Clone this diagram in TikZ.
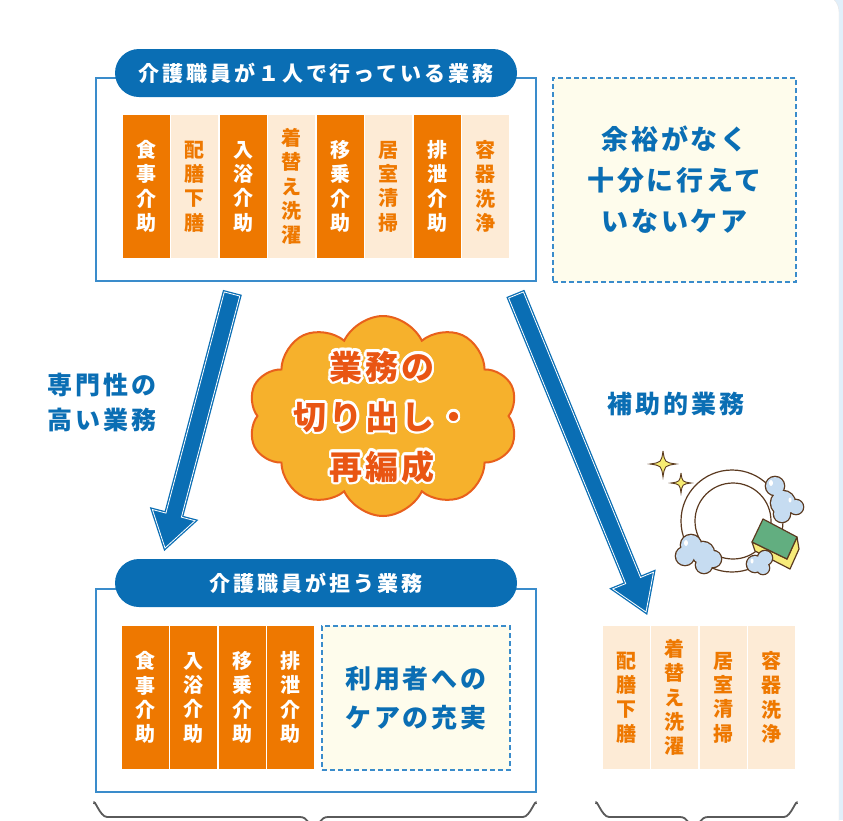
\documentclass[tikz,border=0pt]{standalone}
\usepackage{fontspec}
\usepackage{contour}
\usetikzlibrary{calc,shapes.symbols}
\newfontfamily\jp{Noto Sans CJK JP}
\contourlength{2.5pt}
\definecolor{kblue}{HTML}{0A6EB4}
\definecolor{lineblue}{HTML}{3A8CCB}
\definecolor{korange}{HTML}{EE7800}
\definecolor{kpeach}{HTML}{FDEBD6}
\definecolor{kcream}{HTML}{FEFCEC}
\definecolor{cloudfill}{HTML}{F6B12C}
\definecolor{cloudedge}{HTML}{E8601C}
\definecolor{cloudtext}{HTML}{E95513}
\definecolor{panelblue}{HTML}{E1EFFA}
\definecolor{dishline}{HTML}{5B3A20}
\definecolor{bubble}{HTML}{C6DCF1}
\definecolor{spongegreen}{HTML}{62AE80}
\definecolor{spongeyellow}{HTML}{F7EB7A}
\definecolor{starfill}{HTML}{F7EC72}
\definecolor{bracegray}{HTML}{5A5A5A}
\tikzset{
  groupbox/.style={draw=lineblue, line width=1.1pt, minimum width=440pt, minimum height=203pt, inner sep=0pt},
  pill/.style={fill=kblue, rounded corners=24pt, minimum width=402pt, minimum height=48pt, inner sep=0pt, text=white,
    font=\jp\bfseries\fontsize{21}{25}\selectfont\addfontfeatures{LetterSpace=14}},
  colbox/.style={minimum width=47pt, minimum height=143pt, inner sep=0pt, align=center,
    font=\jp\bfseries\fontsize{20}{24.3}\selectfont},
  duty/.style={colbox, fill=korange, text=white},
  aside/.style={colbox, fill=kpeach, text=korange},
  spare/.style={fill=kcream, draw=lineblue, dash pattern=on 5pt off 3pt, line width=1.1pt, inner sep=0pt,
    text=kblue, align=center},
  sidelabel/.style={text=kblue, align=center,
    font=\jp\bfseries\fontsize{25}{35}\selectfont\addfontfeatures{LetterSpace=12}},
  bigarrow/.style={fill=kblue, draw=kblue, line width=1.3pt, double=white, double distance=0.8pt},
  dish/.style={draw=dishline, line width=1.2pt},
  sparkle/.pic={\draw[dish, line width=0.9pt, fill=starfill] (0,-1) .. controls (0.13,-0.13) .. (1,0)
    .. controls (0.13,0.13) .. (0,1) .. controls (-0.13,0.13) .. (-1,0) .. controls (-0.13,-0.13) .. cycle;}
}
% block arrow from #1 to #2 (tip)
\def\bigarrow(#1)(#2){%
  \coordinate (#1hb) at ($(#2)!34pt!(#1)$);
  \draw[bigarrow] ($(#1)!8pt!90:(#2)$) -- ($(#1hb)!8pt!-90:(#1)$) -- ($(#1hb)!22pt!-90:(#1)$) -- (#2)
    -- ($(#1hb)!22pt!90:(#1)$) -- ($(#1hb)!8pt!90:(#1)$) -- ($(#1)!8pt!-90:(#2)$) -- cycle;}

\begin{document}
\begin{tikzpicture}[x=1pt,y=-1pt]
  %%%%% START %%%%%
  \useasboundingbox (0,0) rectangle (843,820);
  \fill[panelblue] (0,0) rectangle (843,820);
  \draw[fill=white, draw=black!10, rounded corners=18pt] (-30,-6) rectangle (839,850);

  % duties done by one care worker
  \node[groupbox] (topbox) at (316,179.5) {};
  \node[pill] (toptitle) at (316,73) {介護職員が１人で行っている業務};
  \node[duty]  (t1) at (146,186.5)   {食\\事\\介\\助};
  \node[aside] (t2) at (194.5,186.5) {配\\膳\\下\\膳};
  \node[duty]  (t3) at (243,186.5)   {入\\浴\\介\\助};
  \node[aside] (t4) at (291.5,186.5) {着\\替\\え\\洗\\濯};
  \node[duty]  (t5) at (340,186.5)   {移\\乗\\介\\助};
  \node[aside] (t6) at (388.5,186.5) {居\\室\\清\\掃};
  \node[duty]  (t7) at (437,186.5)   {排\\泄\\介\\助};
  \node[aside] (t8) at (485.5,186.5) {容\\器\\洗\\浄};

  \node[spare, minimum width=243pt, minimum height=204pt,
    font=\jp\bfseries\fontsize{27}{41}\selectfont\addfontfeatures{LetterSpace=10}]
    (lack) at (674.5,180) {余裕がなく\\十分に行えて\\いないケア};

  % split arrows
  \coordinate (fromL) at (232,294);
  \coordinate (toL) at (165,548);
  \coordinate (fromR) at (516,295);
  \coordinate (toR) at (646,612);
  \bigarrow(fromL)(toL)
  \bigarrow(fromR)(toR)

  \node[sidelabel] (expert) at (102,403) {専門性の\\高い業務};
  \node[sidelabel] (assist) at (676,404) {補助的業務};

  % cloud in the middle
  \node[cloud, cloud puffs=10, cloud puff arc=130, draw=cloudedge, fill=cloudfill, line width=2pt,
    minimum width=270pt, minimum height=200pt] (cloud) at (383,416) {};
  \node[text=cloudtext, align=center, font=\jp\bfseries\fontsize{33}{50}\selectfont\addfontfeatures{LetterSpace=9}]
    (cloudtxt) at (382,418) {\contour{white}{業務の}\\\contour{white}{切り出し・}\\\contour{white}{再編成}};

  % dish, sponge and bubbles
  \draw[dish, fill=white] (732,521) circle (51pt);
  \draw[dish] (733,521) circle (38pt);
  \pic[scale=13] at (663,464) {sparkle};
  \pic[scale=10] at (681,483) {sparkle};

  \draw[dishline, line width=2.6pt] (775,486) circle (9pt) (783,503) circle (12pt) (796,507) circle (7pt) (782,514) circle (8pt);
  \fill[bubble] (775,486) circle (9pt) (783,503) circle (12pt) (796,507) circle (7pt) (782,514) circle (8pt);
  \fill[white] (771,483) ellipse (2pt and 3pt) (790,500) ellipse (1.5pt and 2.5pt);

  \draw[dishline, line width=2.6pt] (691,545) circle (10pt) (685,556) circle (9pt) (703,553) circle (11pt) (713,559) circle (8pt) (704,565) circle (8pt);
  \fill[bubble] (691,545) circle (10pt) (685,556) circle (9pt) (703,553) circle (11pt) (713,559) circle (8pt) (704,565) circle (8pt);
  \fill[white] (686,543) ellipse (2pt and 3pt);

  \draw[dish, fill=spongeyellow, line join=round] (752,542) -- (787,559) -- (797,537) -- (799,549) -- (790,569) -- (755,551) -- cycle;
  \draw[dish, fill=spongegreen, line join=round] (752,542) -- (763,519) -- (797,537) -- (787,559) -- cycle;

  \draw[dishline, line width=2.6pt] (755,564) circle (8pt) (765,558) circle (7pt) (763,568) circle (6pt);
  \fill[bubble] (755,564) circle (8pt) (765,558) circle (7pt) (763,568) circle (6pt);
  \fill[white] (752,561) ellipse (1.5pt and 2.5pt);

  % duties kept by care workers
  \node[groupbox] (carebox) at (316,690.5) {};
  \node[pill] (caretitle) at (316,583) {介護職員が担う業務};
  \node[duty] (b1) at (145,697.5)   {食\\事\\介\\助};
  \node[duty] (b2) at (193.5,697.5) {入\\浴\\介\\助};
  \node[duty] (b3) at (242,697.5)   {移\\乗\\介\\助};
  \node[duty] (b4) at (290.5,697.5) {排\\泄\\介\\助};
  \node[spare, minimum width=188pt, minimum height=144pt,
    font=\jp\bfseries\fontsize{26}{39}\selectfont\addfontfeatures{LetterSpace=11}]
    (fuller) at (416,698) {利用者への\\ケアの充実};

  % support duties
  \node[aside] (s1) at (626,697.5)   {配\\膳\\下\\膳};
  \node[aside] (s2) at (674.5,697.5) {着\\替\\え\\洗\\濯};
  \node[aside] (s3) at (723,697.5)   {居\\室\\清\\掃};
  \node[aside] (s4) at (771.5,697.5) {容\\器\\洗\\浄};

  % braces under the groups
  \draw[bracegray, line width=1.8pt] (94,804) to[out=90,in=180] (107,817) -- (300,817) to[out=0,in=90] (311,832);
  \draw[bracegray, line width=1.8pt] (536,804) to[out=90,in=0] (523,817) -- (328,817) to[out=180,in=90] (317,832);
  \draw[bracegray, line width=1.8pt] (596,804) to[out=90,in=180] (609,817) -- (680,817) to[out=0,in=90] (691,832);
  \draw[bracegray, line width=1.8pt] (797,804) to[out=90,in=0] (784,817) -- (708,817) to[out=180,in=90] (697,832);
  %%%%% END %%%%%
\end{tikzpicture}
\end{document}
